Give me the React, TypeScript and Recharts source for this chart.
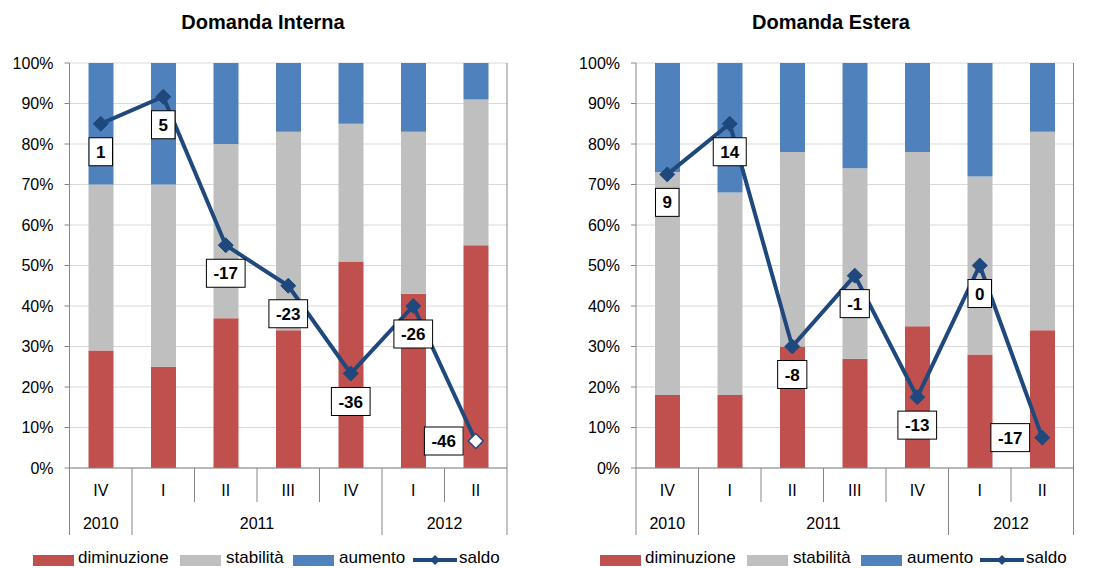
import React from 'react';
import { ComposedChart, Bar, Line, XAxis, YAxis, CartesianGrid, LabelList } from 'recharts';

const QUARTERS = ['IV', 'I', 'II', 'III', 'IV', 'I', 'II'];
const YEARS = ['2010', '2011', '2011', '2011', '2011', '2012', '2012'];
const PCT_TICKS = [0, 10, 20, 30, 40, 50, 60, 70, 80, 90, 100];

const INT_DIM = [29, 25, 37, 34, 51, 43, 55];
const INT_STAB = [41, 45, 43, 49, 34, 40, 36];
const INT_AUM = [30, 30, 20, 17, 15, 17, 9];
const INT_SALDO = [1, 5, -17, -23, -36, -26, -46];

const EST_DIM = [18, 18, 30, 27, 35, 28, 34];
const EST_STAB = [55, 50, 48, 47, 43, 44, 49];
const EST_AUM = [27, 32, 22, 26, 22, 28, 17];
const EST_SALDO = [9, 14, -8, -1, -13, 0, -17];

const RED = '#C0504D';
const GRAY = '#BFBFBF';
const BLUE = '#4F81BD';
const NAVY = '#1F497D';
const AXIS = '#868686';
const FONT = '"Liberation Sans", Arial, sans-serif';

const W = 551;
const H = 568;
const TOP = 63;
const BOTTOM = 468;

function buildData(dim: number[], stab: number[], aum: number[], saldo: number[]) {
  return QUARTERS.map((q, i) => ({ q, dim: dim[i], stab: stab[i], aum: aum[i], saldo: saldo[i] }));
}

function textWidth(s: string) {
  let w = 0;
  for (const c of s) w += c === '-' ? 5.7 : 9.5;
  return w;
}

interface PanelProps {
  title: string;
  titleX: number;
  dim: number[];
  stab: number[];
  aum: number[];
  saldo: number[];
  saldoDomain: [number, number];
  plotLeft: number;
  plotRight: number;
  hollowLast: boolean;
  legendX: number[];
}

function Panel(p: PanelProps) {
  const data = buildData(p.dim, p.stab, p.aum, p.saldo);
  const bw = (p.plotRight - p.plotLeft) / data.length;
  const last = data.length - 1;

  const renderTick = (props: any) => {
    const { x, index } = props;
    const i = index;
    const newYear = i === 0 || YEARS[i] !== YEARS[i - 1];
    let span = 0;
    if (newYear) {
      while (i + span < YEARS.length && YEARS[i + span] === YEARS[i]) span++;
    }
    const lx = x - bw / 2;
    return (
      <g>
        <line x1={lx} y1={BOTTOM} x2={lx} y2={newYear ? 535 : 502} stroke={AXIS} strokeWidth={1} />
        {i === last && (
          <line x1={x + bw / 2} y1={TOP} x2={x + bw / 2} y2={535} stroke={AXIS} strokeWidth={1} />
        )}
        <text x={x} y={496} textAnchor="middle" fontSize={16} fill="#000" fontFamily={FONT}>
          {QUARTERS[i]}
        </text>
        {newYear && (
          <text x={x + ((span - 1) / 2) * bw} y={529} textAnchor="middle" fontSize={16} fill="#000" fontFamily={FONT}>
            {YEARS[i]}
          </text>
        )}
      </g>
    );
  };

  const renderDot = (props: any) => {
    const { cx, cy, index } = props;
    const hollow = p.hollowLast && index === last;
    const r = 7.5;
    return (
      <polygon
        key={`d-${index}`}
        points={`${cx},${cy - r} ${cx + r},${cy} ${cx},${cy + r} ${cx - r},${cy}`}
        fill={hollow ? '#fff' : NAVY}
        stroke={NAVY}
        strokeWidth={hollow ? 1.5 : 1}
      />
    );
  };

  const renderLabel = (props: any) => {
    const { x, y, value, index } = props;
    const s = String(value);
    const bwid = textWidth(s) + 14;
    const bh = 28;
    const cx = index === last ? x - 32 : x;
    const cy = index === last ? y : y + 28;
    return (
      <g key={`l-${index}`}>
        <rect x={cx - bwid / 2} y={cy - bh / 2} width={bwid} height={bh} fill="#fff" stroke="#000" strokeWidth={1} />
        <text x={cx} y={cy + 6} textAnchor="middle" fontSize={17} fontWeight="bold" fill="#000" fontFamily={FONT}>
          {s}
        </text>
      </g>
    );
  };

  const lx = p.legendX;
  const legendText: React.CSSProperties = { position: 'absolute', top: 548, fontSize: 17, color: '#000', lineHeight: '19px' };
  const swatch = (left: number, color: string): React.CSSProperties => ({
    position: 'absolute', left, top: 555, width: 41, height: 11, background: color,
  });

  return (
    <div style={{ position: 'relative', width: W, height: H }}>
      <div style={{ position: 'absolute', left: p.titleX - 150, width: 300, top: 11, textAlign: 'center', fontWeight: 'bold', fontSize: 20 }}>
        {p.title}
      </div>
      <ComposedChart
        width={W}
        height={H}
        data={data}
        margin={{ top: TOP, right: W - p.plotRight, bottom: 0, left: 0 }}
        style={{ fontFamily: FONT }}
      >
        <CartesianGrid vertical={false} stroke="#D9D9D9" yAxisId="pct" />
        <XAxis dataKey="q" height={H - BOTTOM} tickLine={false} axisLine={{ stroke: AXIS }} tick={renderTick} interval={0} />
        <YAxis
          yAxisId="pct"
          width={p.plotLeft}
          domain={[0, 100]}
          ticks={PCT_TICKS}
          tickFormatter={(v: number) => `${v}%`}
          tick={{ fontSize: 16, fill: '#000' }}
          tickSize={5}
          tickMargin={11}
          tickLine={{ stroke: AXIS }}
          axisLine={{ stroke: AXIS }}
        />
        <YAxis yAxisId="saldo" orientation="right" hide domain={p.saldoDomain} />
        <Bar yAxisId="pct" dataKey="dim" stackId="a" fill={RED} barSize={25} isAnimationActive={false} />
        <Bar yAxisId="pct" dataKey="stab" stackId="a" fill={GRAY} barSize={25} isAnimationActive={false} />
        <Bar yAxisId="pct" dataKey="aum" stackId="a" fill={BLUE} barSize={25} isAnimationActive={false} />
        <Line
          yAxisId="saldo"
          dataKey="saldo"
          stroke={NAVY}
          strokeWidth={4}
          dot={renderDot}
          activeDot={false}
          isAnimationActive={false}
        >
          <LabelList dataKey="saldo" content={renderLabel} />
        </Line>
      </ComposedChart>
      <div style={swatch(lx[0], RED)} />
      <div style={{ ...legendText, left: lx[0] + 45 }}>diminuzione</div>
      <div style={swatch(lx[1], GRAY)} />
      <div style={{ ...legendText, left: lx[1] + 46 }}>stabilità</div>
      <div style={swatch(lx[2], BLUE)} />
      <div style={{ ...legendText, left: lx[2] + 46 }}>aumento</div>
      <svg style={{ position: 'absolute', left: lx[3], top: 553 }} width={46} height={14}>
        <line x1={0} y1={7} x2={44} y2={7} stroke={NAVY} strokeWidth={4} />
        <polygon points="22,2 27,7 22,12 17,7" fill={NAVY} />
      </svg>
      <div style={{ ...legendText, left: lx[3] + 46 }}>saldo</div>
    </div>
  );
}

export default function App() {
  return (
    <div style={{ position: 'absolute', left: 0, top: 0, width: 1102, height: 568, background: '#fff', fontFamily: FONT, overflow: 'hidden' }}>
      <div style={{ position: 'absolute', left: 0, top: 0 }}>
        <Panel
          title="Domanda Interna"
          titleX={263}
          dim={INT_DIM}
          stab={INT_STAB}
          aum={INT_AUM}
          saldo={INT_SALDO}
          saldoDomain={[-50, 10]}
          plotLeft={69.5}
          plotRight={507}
          hollowLast={true}
          legendX={[33, 180, 293, 413]}
        />
      </div>
      <div style={{ position: 'absolute', left: W, top: 0 }}>
        <Panel
          title="Domanda Estera"
          titleX={280}
          dim={EST_DIM}
          stab={EST_STAB}
          aum={EST_AUM}
          saldo={EST_SALDO}
          saldoDomain={[-20, 20]}
          plotLeft={85}
          plotRight={522.5}
          hollowLast={false}
          legendX={[49, 196, 310, 429]}
        />
      </div>
    </div>
  );
}
